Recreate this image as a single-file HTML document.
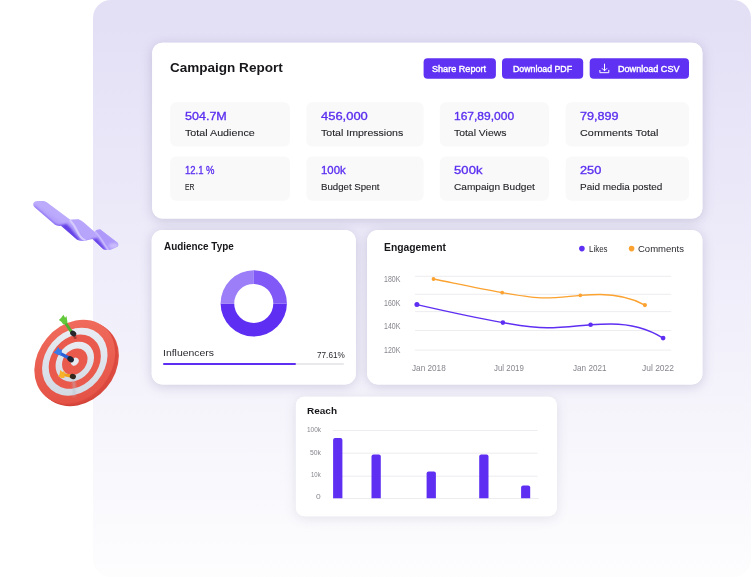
<!DOCTYPE html>
<html lang="en">
<head>
<meta charset="utf-8">
<title>Campaign Report</title>
<style>
html,body{margin:0;padding:0;}
body{width:752px;height:577px;overflow:hidden;background:#ffffff;position:relative;font-family:"Liberation Sans",sans-serif;}
.abs{position:absolute;}
.panel{left:93.3px;top:0;width:657.7px;height:577px;border-radius:18px;
 background:linear-gradient(180deg,#E3E0F6 0%,#E3E0F6 4%,#FDFDFE 100%);}
.sh1{filter:drop-shadow(0 2px 6px rgba(66,58,120,0.21));}
.sh2{filter:drop-shadow(0 2px 6px rgba(60,60,95,0.12));}
.t{position:absolute;white-space:pre;font-family:"Liberation Sans",sans-serif;}
</style>
</head>
<body>
<div class="abs panel"></div>

<!-- cards -->
<svg class="abs" style="left:0;top:0;overflow:visible;" width="752" height="577" viewBox="0 0 752 577" fill="#fff">
 <rect class="sh1" x="152.2" y="42.7" width="550.2" height="175.8" rx="10"/>
 <rect class="sh1" x="151.7" y="229.9" width="204.1" height="154.6" rx="11"/>
 <rect class="sh1" x="367.2" y="229.9" width="335.2" height="154.6" rx="11"/>
 <rect class="sh2" x="295.9" y="396.8" width="261" height="119.5" rx="8.5"/>
 <rect x="152.2" y="42.7" width="550.2" height="175.8" rx="10"/>
 <rect x="151.7" y="229.9" width="204.1" height="154.6" rx="11"/>
 <rect x="367.2" y="229.9" width="335.2" height="154.6" rx="11"/>
 <rect x="295.9" y="396.8" width="261" height="119.5" rx="8.5"/>
</svg>

<svg class="abs" style="left:0;top:0;" width="752" height="577" viewBox="0 0 752 577" fill="#F9F9FA">
 <g fill="#5F31F2"><rect x="423.6" y="58.2" width="72.3" height="20.6" rx="4"/><rect x="502" y="58.2" width="81.2" height="20.6" rx="4"/><rect x="589.7" y="58.2" width="99.3" height="20.6" rx="4"/></g>
 <rect x="170.2" y="102.2" width="119.8" height="44.4" rx="6"/>
 <rect x="306.3" y="102.2" width="117.3" height="44.4" rx="6"/>
 <rect x="439.8" y="102.2" width="109.2" height="44.4" rx="6"/>
 <rect x="565.6" y="102.2" width="123.4" height="44.4" rx="6"/>
 <rect x="170.2" y="156.5" width="119.8" height="44.2" rx="6"/>
 <rect x="306.3" y="156.5" width="117.3" height="44.2" rx="6"/>
 <rect x="439.8" y="156.5" width="109.2" height="44.2" rx="6"/>
 <rect x="565.6" y="156.5" width="123.4" height="44.2" rx="6"/>
</svg>

<svg class="abs" style="left:597px;top:62px;" width="14" height="13" viewBox="597 62 14 13" fill="none" stroke="#fff" stroke-width="1" stroke-linecap="round" stroke-linejoin="round">
 <path d="M604.5 64.1V70.7M602.2 68.5L604.5 70.8L606.8 68.5M599.9 70.4V72.7H608.8V70.3"/>
</svg>

<!-- audience card -->
<svg class="abs" style="left:215px;top:265px;" width="78" height="78" viewBox="215 265 78 78">
 <path d="M220.6 303.4A33.15 33.15 0 0 0 286.9 303.4H273.3A19.5 19.5 0 0 1 234.2 303.4Z" fill="#5E2FF2"/>
 <path d="M220.6 303.4A33.15 33.15 0 0 1 253.8 270.2V283.9A19.5 19.5 0 0 0 234.2 303.4Z" fill="#9B7EF8"/>
 <path d="M253.8 270.2A33.15 33.15 0 0 1 286.9 303.4H273.3A19.5 19.5 0 0 0 253.8 283.9Z" fill="#8159F7"/>
</svg>
<div class="abs" style="left:163px;top:362.9px;width:181.3px;height:2px;background:#E9E9EC;border-radius:1px;"></div>
<div class="abs" style="left:163px;top:362.9px;width:133px;height:2px;background:#5E2FF2;border-radius:1px;"></div>

<!-- engagement card -->
<svg class="abs" style="left:367px;top:230px;" width="336" height="155" viewBox="367 230 336 155" fill="none">
 <g stroke="#EBEBEE" stroke-width="0.9">
  <path d="M415 276.3H671.2M415 294.3H671.2M415 311.6H671.2M415 330.5H671.2M415 350.1H671.2"/>
 </g>
 <path d="M433.5 279C456 283.5 479 288.5 502.2 292.6C520 295.8 532 297.9 544 297.9C558 297.9 568 296.3 580.3 295.3C588 294.8 594 294.5 600 294.5C619 294.5 632 298 644.9 305.1" stroke="#FBA230" stroke-width="1.3" stroke-linecap="round"/>
 <path d="M416.9 304.6C445 311 474 317.5 502.9 322.6C520 325.6 535 327.8 547 327.8C562 327.8 577 325.8 590.6 324.7C598 324.2 604 324 611 324C632 324 650 330 663.1 338.1" stroke="#5E2FF2" stroke-width="1.4" stroke-linecap="round"/>
 <g fill="#FBA230"><circle cx="433.5" cy="279" r="1.9"/><circle cx="502.2" cy="292.6" r="1.9"/><circle cx="580.3" cy="295.3" r="1.9"/><circle cx="644.9" cy="305.1" r="2.1"/></g>
 <g fill="#5E2FF2"><circle cx="416.9" cy="304.6" r="2.5"/><circle cx="502.9" cy="322.6" r="2.3"/><circle cx="590.6" cy="324.7" r="2.3"/><circle cx="663.1" cy="338.1" r="2.4"/></g>
 <circle cx="581.9" cy="248.6" r="2.8" fill="#5E2FF2"/>
 <circle cx="631.6" cy="248.6" r="2.8" fill="#FBA230"/>
</svg>

<!-- reach card -->
<svg class="abs" style="left:296px;top:397px;" width="261" height="120" viewBox="296 397 261 120" fill="none">
 <path d="M332.8 430.5H537.5M332.8 453.2H537.5M332.8 476.2H537.5M332.8 498.5H538.9" stroke="#EBEBEE" stroke-width="0.9"/>
 <g fill="#5E2FF2">
  <path d="M333.1 498.2V440a2 2 0 0 1 2-2h5.3a2 2 0 0 1 2 2V498.2Z"/>
  <path d="M371.5 498.2V456.6a2 2 0 0 1 2-2h5.3a2 2 0 0 1 2 2V498.2Z"/>
  <path d="M426.6 498.2V473.4a2 2 0 0 1 2-2h5.3a2 2 0 0 1 2 2V498.2Z"/>
  <path d="M479.2 498.2V456.4a2 2 0 0 1 2-2h5.3a2 2 0 0 1 2 2V498.2Z"/>
  <path d="M521.1 498.2V487.5a2 2 0 0 1 2-2h5.1a2 2 0 0 1 2 2V498.2Z"/>
 </g>
</svg>

<!-- ribbon -->
<svg class="abs" style="left:28px;top:195px;" width="96" height="60" viewBox="0 0 752 470">
 <defs>
  <linearGradient id="rbA" x1="0.1" y1="0.9" x2="0.75" y2="0.1">
   <stop offset="0.30" stop-color="#8466F3"/><stop offset="0.45" stop-color="#B29EFB"/><stop offset="0.60" stop-color="#C0B0FC"/><stop offset="0.8" stop-color="#AD97FA"/>
  </linearGradient>
  <clipPath id="rbC"><path d="M40 72Q42 50 75 47L122 47Q145 52 165 70L330 193L395 190Q420 198 440 218L522 290Q528 280 535 274L565 268L700 372Q716 388 702 404Q675 420 640 430Q610 434 590 424L505 345Q470 352 440 360Q410 362 385 350L258 240Q236 246 212 234L52 95Q40 84 40 72Z"/></clipPath>
  <filter id="rbB4" filterUnits="userSpaceOnUse" x="-50" y="-50" width="852" height="570"><feGaussianBlur stdDeviation="9"/></filter>
  <filter id="rbB3" filterUnits="userSpaceOnUse" x="-50" y="-50" width="852" height="570"><feGaussianBlur stdDeviation="6"/></filter>
 </defs>
 <g clip-path="url(#rbC)">
  <rect x="0" y="0" width="752" height="470" fill="url(#rbA)"/>
  <path d="M30 80L212 250L258 254L262 238Q236 242 206 220L56 88Z" fill="#7655EE" filter="url(#rbB4)" opacity="0.75"/>
  <path d="M110 40L345 200L288 230L78 64Z" fill="#BCAAFC" filter="url(#rbB4)" opacity="0.9"/>
  <path d="M330 190L400 188L530 295L505 340L440 352Q420 300 380 250Z" fill="#B7A4FB" filter="url(#rbB4)"/>
  <path d="M246 238L302 226Q338 258 362 296L404 350L384 362L338 322Z" fill="#6341E6" filter="url(#rbB4)"/>
  <path d="M332 202Q366 238 388 288T446 354" stroke="#D6CBFE" stroke-width="16" fill="none" stroke-linecap="round" filter="url(#rbB3)"/>
  <path d="M528 270L568 262L720 380L700 415L610 440Q590 380 545 330Z" fill="#AE99FA" filter="url(#rbB4)"/>
  <path d="M494 346L542 336Q566 366 584 392L612 432L584 432Z" fill="#6845E9" filter="url(#rbB4)"/>
  <path d="M530 292Q560 322 580 356T628 428" stroke="#C6B7FD" stroke-width="14" fill="none" stroke-linecap="round" filter="url(#rbB3)"/>
  <ellipse cx="672" cy="398" rx="38" ry="22" fill="#CDBFFD" filter="url(#rbB4)" opacity="0.9"/>
 </g>
</svg>
<!-- dartboard -->
<svg class="abs" style="left:28px;top:310px;" width="96" height="100" viewBox="0 0 554 577">
 <defs>
  <linearGradient id="dbF" x1="0.15" y1="0.1" x2="0.85" y2="0.95">
   <stop offset="0" stop-color="#F06C5C"/><stop offset="1" stop-color="#E35044"/>
  </linearGradient>
  <linearGradient id="dbW" x1="0.2" y1="0.1" x2="0.7" y2="1">
   <stop offset="0" stop-color="#E9EDF3"/><stop offset="1" stop-color="#D3D9E3"/>
  </linearGradient>
  <linearGradient id="dbR" x1="0.5" y1="0" x2="0.5" y2="1">
   <stop offset="0" stop-color="#E45246"/><stop offset="1" stop-color="#CE4036"/>
  </linearGradient>
  <filter id="dbB" filterUnits="userSpaceOnUse" x="0" y="0" width="554" height="577"><feGaussianBlur stdDeviation="6"/></filter>
 </defs>
 <g transform="translate(291 313) rotate(40)"><ellipse rx="211" ry="262" fill="url(#dbR)"/></g>
 <g transform="translate(281 306) rotate(40)"><ellipse rx="211" ry="262" fill="#DB493E"/></g>
 <g transform="translate(270 298) rotate(40)">
  <ellipse rx="211" ry="262" fill="url(#dbF)"/>
  <ellipse rx="171" ry="212" fill="url(#dbW)"/>
  <ellipse rx="136" ry="169" fill="#E9594C"/>
  <ellipse rx="100" ry="125" fill="url(#dbW)"/>
  <ellipse rx="66" ry="83" fill="#E9594C"/>
  <ellipse rx="20" ry="25" fill="#E6EAF0"/>
 </g>
 <path d="M262 398Q270 440 266 492" stroke="#B9C0CC" stroke-width="14" fill="none" stroke-linecap="round" filter="url(#dbB)" opacity="0.55"/>
 <!-- green dart -->
 <ellipse cx="272" cy="160" rx="9" ry="8" fill="#8E2F28" opacity="0.7"/>
 <path d="M214 72L252 128" stroke="#4FB02E" stroke-width="17" stroke-linecap="round"/>
 <path d="M178 58Q192 48 204 28L214 44L222 34Q226 56 228 74L204 84Q194 66 178 58Z" fill="#62C93A"/>
 <ellipse cx="261" cy="136" rx="19" ry="15" transform="rotate(40 261 136)" fill="#27272B"/>
 <!-- blue dart -->
 <path d="M180 248L236 277" stroke="#2B5FD6" stroke-width="18" stroke-linecap="round"/>
 <path d="M146 246Q164 236 174 214L184 230L196 226Q196 246 190 262L170 258Q160 250 146 246Z" fill="#3A7BEA"/>
 <ellipse cx="246" cy="284" rx="20" ry="16" transform="rotate(35 246 284)" fill="#1F2230"/>
 <!-- yellow dart -->
 <path d="M202 372L246 381" stroke="#F0A01C" stroke-width="18" stroke-linecap="round"/>
 <path d="M174 384Q186 370 186 346L200 358L210 352Q214 372 210 392L192 392Q184 386 174 384Z" fill="#F7B12A"/>
 <ellipse cx="259" cy="384" rx="18" ry="15" transform="rotate(15 259 384)" fill="#33261C"/>
</svg>


<span class="t" style="left:170.0px;top:59.81px;font-size:13.2px;line-height:15.84px;font-weight:700;color:#17171b;letter-spacing:0.000px;transform:scaleX(1.0254);transform-origin:0 0;">Campaign Report</span>
<span class="t" style="left:432.1px;top:63.78px;font-size:9.0px;line-height:10.8px;font-weight:400;color:#ffffff;letter-spacing:0.000px;transform:scaleX(1.0106);transform-origin:0 0;-webkit-text-stroke:0.4px #ffffff;">Share Report</span>
<span class="t" style="left:513.0px;top:63.78px;font-size:9.0px;line-height:10.8px;font-weight:400;color:#ffffff;letter-spacing:0.000px;transform:scaleX(0.9747);transform-origin:0 0;-webkit-text-stroke:0.4px #ffffff;">Download PDF</span>
<span class="t" style="left:618.0px;top:63.78px;font-size:9.0px;line-height:10.8px;font-weight:400;color:#ffffff;letter-spacing:0.000px;transform:scaleX(1.0077);transform-origin:0 0;-webkit-text-stroke:0.4px #ffffff;">Download CSV</span>
<span class="t" style="left:184.6px;top:108.83px;font-size:11.8px;line-height:14.16px;font-weight:400;color:#5B2FEF;letter-spacing:0.000px;transform:scaleX(1.0620);transform-origin:0 0;-webkit-text-stroke:0.35px #5B2FEF;">504.7M</span>
<span class="t" style="left:320.9px;top:108.83px;font-size:11.8px;line-height:14.16px;font-weight:400;color:#5B2FEF;letter-spacing:0.000px;transform:scaleX(1.0971);transform-origin:0 0;-webkit-text-stroke:0.35px #5B2FEF;">456,000</span>
<span class="t" style="left:454.0px;top:108.83px;font-size:11.8px;line-height:14.16px;font-weight:400;color:#5B2FEF;letter-spacing:-0.000px;transform:scaleX(1.0178);transform-origin:0 0;-webkit-text-stroke:0.35px #5B2FEF;">167,89,000</span>
<span class="t" style="left:579.7px;top:108.83px;font-size:11.8px;line-height:14.16px;font-weight:400;color:#5B2FEF;letter-spacing:0.000px;transform:scaleX(1.0694);transform-origin:0 0;-webkit-text-stroke:0.35px #5B2FEF;">79,899</span>
<span class="t" style="left:184.6px;top:162.83px;font-size:11.8px;line-height:14.16px;font-weight:400;color:#5B2FEF;letter-spacing:0.000px;transform:scaleX(0.8031);transform-origin:0 0;-webkit-text-stroke:0.35px #5B2FEF;">12.1 %</span>
<span class="t" style="left:320.9px;top:162.83px;font-size:11.8px;line-height:14.16px;font-weight:400;color:#5B2FEF;letter-spacing:0.000px;transform:scaleX(0.9651);transform-origin:0 0;-webkit-text-stroke:0.35px #5B2FEF;">100k</span>
<span class="t" style="left:454.0px;top:162.83px;font-size:11.8px;line-height:14.16px;font-weight:400;color:#5B2FEF;letter-spacing:0.105px;transform:scaleX(1.1000);transform-origin:0 0;-webkit-text-stroke:0.35px #5B2FEF;">500k</span>
<span class="t" style="left:579.7px;top:162.83px;font-size:11.8px;line-height:14.16px;font-weight:400;color:#5B2FEF;letter-spacing:0.000px;transform:scaleX(1.0819);transform-origin:0 0;-webkit-text-stroke:0.35px #5B2FEF;">250</span>
<span class="t" style="left:184.6px;top:127.22px;font-size:9.8px;line-height:11.76px;font-weight:400;color:#1e1e23;letter-spacing:0.000px;transform:scaleX(1.0936);transform-origin:0 0;-webkit-text-stroke:0.1px #1e1e23;">Total Audience</span>
<span class="t" style="left:320.9px;top:127.22px;font-size:9.8px;line-height:11.76px;font-weight:400;color:#1e1e23;letter-spacing:0.000px;transform:scaleX(1.0783);transform-origin:0 0;-webkit-text-stroke:0.1px #1e1e23;">Total Impressions</span>
<span class="t" style="left:454.0px;top:127.22px;font-size:9.8px;line-height:11.76px;font-weight:400;color:#1e1e23;letter-spacing:-0.000px;transform:scaleX(1.0613);transform-origin:0 0;-webkit-text-stroke:0.1px #1e1e23;">Total Views</span>
<span class="t" style="left:579.7px;top:127.22px;font-size:9.8px;line-height:11.76px;font-weight:400;color:#1e1e23;letter-spacing:0.058px;transform:scaleX(1.1000);transform-origin:0 0;-webkit-text-stroke:0.1px #1e1e23;">Comments Total</span>
<span class="t" style="left:184.6px;top:182.16px;font-size:8.6px;line-height:10.32px;font-weight:400;color:#1e1e23;letter-spacing:0.000px;transform:scaleX(0.7948);transform-origin:0 0;-webkit-text-stroke:0.1px #1e1e23;">ER</span>
<span class="t" style="left:320.9px;top:181.50px;font-size:9.3px;line-height:11.16px;font-weight:400;color:#1e1e23;letter-spacing:0.000px;transform:scaleX(1.0380);transform-origin:0 0;-webkit-text-stroke:0.1px #1e1e23;">Budget Spent</span>
<span class="t" style="left:454.0px;top:181.50px;font-size:9.3px;line-height:11.16px;font-weight:400;color:#1e1e23;letter-spacing:0.000px;transform:scaleX(1.0868);transform-origin:0 0;-webkit-text-stroke:0.1px #1e1e23;">Campaign Budget</span>
<span class="t" style="left:579.7px;top:181.50px;font-size:9.3px;line-height:11.16px;font-weight:400;color:#1e1e23;letter-spacing:0.000px;transform:scaleX(1.0699);transform-origin:0 0;-webkit-text-stroke:0.1px #1e1e23;">Paid media posted</span>
<span class="t" style="left:164.0px;top:240.55px;font-size:10.2px;line-height:12.24px;font-weight:700;color:#17171b;letter-spacing:0.000px;transform:scaleX(0.9719);transform-origin:0 0;">Audience Type</span>
<span class="t" style="left:163.0px;top:347.43px;font-size:9.9px;line-height:11.88px;font-weight:400;color:#2a2a30;letter-spacing:0.000px;transform:scaleX(1.0556);transform-origin:0 0;">Influencers</span>
<span class="t" style="left:316.5px;top:349.40px;font-size:9.4px;line-height:11.28px;font-weight:400;color:#2a2a30;letter-spacing:-0.000px;transform:scaleX(0.8743);transform-origin:0 0;">77.61%</span>
<span class="t" style="left:384.4px;top:241.75px;font-size:10.2px;line-height:12.24px;font-weight:700;color:#17171b;letter-spacing:0.000px;transform:scaleX(1.0141);transform-origin:0 0;">Engagement</span>
<span class="t" style="left:588.9px;top:243.67px;font-size:8.8px;line-height:10.56px;font-weight:400;color:#2a2a30;letter-spacing:0.000px;transform:scaleX(0.9004);transform-origin:0 0;">Likes</span>
<span class="t" style="left:638.0px;top:243.67px;font-size:8.8px;line-height:10.56px;font-weight:400;color:#2a2a30;letter-spacing:0.000px;transform:scaleX(1.0816);transform-origin:0 0;">Comments</span>
<span class="t" style="left:383.6px;top:275.24px;font-size:8.3px;line-height:9.96px;font-weight:400;color:#85858e;letter-spacing:0.000px;transform:scaleX(0.8406);transform-origin:0 0;">180K</span>
<span class="t" style="left:383.6px;top:298.64px;font-size:8.3px;line-height:9.96px;font-weight:400;color:#85858e;letter-spacing:0.000px;transform:scaleX(0.8406);transform-origin:0 0;">160K</span>
<span class="t" style="left:383.6px;top:322.04px;font-size:8.3px;line-height:9.96px;font-weight:400;color:#85858e;letter-spacing:0.000px;transform:scaleX(0.8406);transform-origin:0 0;">140K</span>
<span class="t" style="left:383.6px;top:345.64px;font-size:8.3px;line-height:9.96px;font-weight:400;color:#85858e;letter-spacing:0.000px;transform:scaleX(0.8406);transform-origin:0 0;">120K</span>
<span class="t" style="left:412.2px;top:362.55px;font-size:8.4px;line-height:10.08px;font-weight:400;color:#85858e;letter-spacing:0.000px;transform:scaleX(0.9777);transform-origin:0 0;">Jan 2018</span>
<span class="t" style="left:494.1px;top:362.55px;font-size:8.4px;line-height:10.08px;font-weight:400;color:#85858e;letter-spacing:0.000px;transform:scaleX(0.9409);transform-origin:0 0;">Jul 2019</span>
<span class="t" style="left:572.6px;top:362.55px;font-size:8.4px;line-height:10.08px;font-weight:400;color:#85858e;letter-spacing:0.000px;transform:scaleX(0.9719);transform-origin:0 0;">Jan 2021</span>
<span class="t" style="left:641.8px;top:362.55px;font-size:8.4px;line-height:10.08px;font-weight:400;color:#85858e;letter-spacing:-0.000px;transform:scaleX(1.0104);transform-origin:0 0;">Jul 2022</span>
<span class="t" style="left:307.3px;top:405.41px;font-size:9.5px;line-height:11.4px;font-weight:700;color:#17171b;letter-spacing:0.000px;transform:scaleX(1.0521);transform-origin:0 0;">Reach</span>
<span class="t" style="left:306.9px;top:426.04px;font-size:6.4px;line-height:7.68px;font-weight:400;color:#85858e;letter-spacing:0.000px;transform:scaleX(1.0101);transform-origin:0 0;">100k</span>
<span class="t" style="left:309.9px;top:448.94px;font-size:6.4px;line-height:7.68px;font-weight:400;color:#85858e;letter-spacing:0.000px;transform:scaleX(1.0667);transform-origin:0 0;">50k</span>
<span class="t" style="left:311.2px;top:470.74px;font-size:6.4px;line-height:7.68px;font-weight:400;color:#85858e;letter-spacing:0.000px;transform:scaleX(0.9406);transform-origin:0 0;">10k</span>
<span class="t" style="left:316.2px;top:492.74px;font-size:6.4px;line-height:7.68px;font-weight:400;color:#85858e;letter-spacing:0.000px;transform:scaleX(1.3193);transform-origin:0 0;">0</span>
</body>
</html>
